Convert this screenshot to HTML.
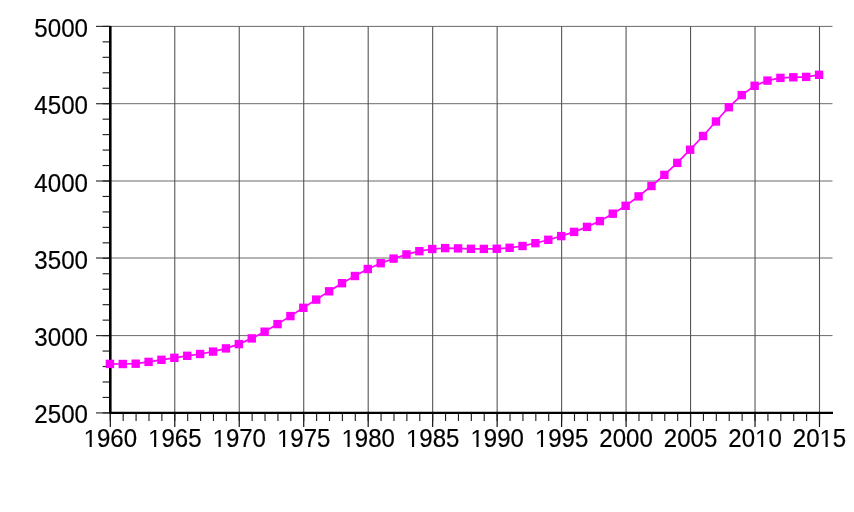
<!DOCTYPE html>
<html><head><meta charset="utf-8"><style>
html,body{margin:0;padding:0;background:#fff;}
svg{display:block;will-change:transform;}
text{font-family:"Liberation Sans",sans-serif;font-size:24.9px;fill:#000;stroke:#000;stroke-width:0.2px;}
path.one{}
</style></head><body>
<svg width="854" height="512" viewBox="0 0 854 512">
<rect width="854" height="512" fill="#fff"/>
<line x1="110.30" y1="26.40" x2="832.5" y2="26.40" stroke="#6a6a6a" stroke-width="1"/>
<line x1="96" y1="26.40" x2="110.30" y2="26.40" stroke="#333" stroke-width="1.2"/>
<line x1="110.30" y1="103.70" x2="832.5" y2="103.70" stroke="#6a6a6a" stroke-width="1"/>
<line x1="96" y1="103.70" x2="110.30" y2="103.70" stroke="#333" stroke-width="1.2"/>
<line x1="110.30" y1="181.00" x2="832.5" y2="181.00" stroke="#6a6a6a" stroke-width="1"/>
<line x1="96" y1="181.00" x2="110.30" y2="181.00" stroke="#333" stroke-width="1.2"/>
<line x1="110.30" y1="258.00" x2="832.5" y2="258.00" stroke="#6a6a6a" stroke-width="1"/>
<line x1="96" y1="258.00" x2="110.30" y2="258.00" stroke="#333" stroke-width="1.2"/>
<line x1="110.30" y1="335.60" x2="832.5" y2="335.60" stroke="#6a6a6a" stroke-width="1"/>
<line x1="96" y1="335.60" x2="110.30" y2="335.60" stroke="#333" stroke-width="1.2"/>
<line x1="110.30" y1="412.90" x2="832.5" y2="412.90" stroke="#6a6a6a" stroke-width="1"/>
<line x1="96" y1="412.90" x2="110.30" y2="412.90" stroke="#333" stroke-width="1.2"/>
<line x1="110.30" y1="26.40" x2="110.30" y2="412.90" stroke="#555" stroke-width="1.1"/>
<line x1="110.30" y1="412.90" x2="110.30" y2="427" stroke="#111" stroke-width="1.2"/>
<line x1="174.77" y1="26.40" x2="174.77" y2="412.90" stroke="#555" stroke-width="1.1"/>
<line x1="174.77" y1="412.90" x2="174.77" y2="427" stroke="#111" stroke-width="1.2"/>
<line x1="239.25" y1="26.40" x2="239.25" y2="412.90" stroke="#555" stroke-width="1.1"/>
<line x1="239.25" y1="412.90" x2="239.25" y2="427" stroke="#111" stroke-width="1.2"/>
<line x1="303.72" y1="26.40" x2="303.72" y2="412.90" stroke="#555" stroke-width="1.1"/>
<line x1="303.72" y1="412.90" x2="303.72" y2="427" stroke="#111" stroke-width="1.2"/>
<line x1="368.19" y1="26.40" x2="368.19" y2="412.90" stroke="#555" stroke-width="1.1"/>
<line x1="368.19" y1="412.90" x2="368.19" y2="427" stroke="#111" stroke-width="1.2"/>
<line x1="432.66" y1="26.40" x2="432.66" y2="412.90" stroke="#555" stroke-width="1.1"/>
<line x1="432.66" y1="412.90" x2="432.66" y2="427" stroke="#111" stroke-width="1.2"/>
<line x1="497.14" y1="26.40" x2="497.14" y2="412.90" stroke="#555" stroke-width="1.1"/>
<line x1="497.14" y1="412.90" x2="497.14" y2="427" stroke="#111" stroke-width="1.2"/>
<line x1="561.61" y1="26.40" x2="561.61" y2="412.90" stroke="#555" stroke-width="1.1"/>
<line x1="561.61" y1="412.90" x2="561.61" y2="427" stroke="#111" stroke-width="1.2"/>
<line x1="626.08" y1="26.40" x2="626.08" y2="412.90" stroke="#555" stroke-width="1.1"/>
<line x1="626.08" y1="412.90" x2="626.08" y2="427" stroke="#111" stroke-width="1.2"/>
<line x1="690.55" y1="26.40" x2="690.55" y2="412.90" stroke="#555" stroke-width="1.1"/>
<line x1="690.55" y1="412.90" x2="690.55" y2="427" stroke="#111" stroke-width="1.2"/>
<line x1="755.03" y1="26.40" x2="755.03" y2="412.90" stroke="#555" stroke-width="1.1"/>
<line x1="755.03" y1="412.90" x2="755.03" y2="427" stroke="#111" stroke-width="1.2"/>
<line x1="819.50" y1="26.40" x2="819.50" y2="412.90" stroke="#555" stroke-width="1.1"/>
<line x1="819.50" y1="412.90" x2="819.50" y2="427" stroke="#111" stroke-width="1.2"/>
<line x1="102.6" y1="26.40" x2="110.30" y2="26.40" stroke="#222" stroke-width="1.15"/>
<line x1="102.6" y1="41.86" x2="110.30" y2="41.86" stroke="#222" stroke-width="1.15"/>
<line x1="102.6" y1="57.32" x2="110.30" y2="57.32" stroke="#222" stroke-width="1.15"/>
<line x1="102.6" y1="72.78" x2="110.30" y2="72.78" stroke="#222" stroke-width="1.15"/>
<line x1="102.6" y1="88.24" x2="110.30" y2="88.24" stroke="#222" stroke-width="1.15"/>
<line x1="102.6" y1="103.70" x2="110.30" y2="103.70" stroke="#222" stroke-width="1.15"/>
<line x1="102.6" y1="119.16" x2="110.30" y2="119.16" stroke="#222" stroke-width="1.15"/>
<line x1="102.6" y1="134.62" x2="110.30" y2="134.62" stroke="#222" stroke-width="1.15"/>
<line x1="102.6" y1="150.08" x2="110.30" y2="150.08" stroke="#222" stroke-width="1.15"/>
<line x1="102.6" y1="165.54" x2="110.30" y2="165.54" stroke="#222" stroke-width="1.15"/>
<line x1="102.6" y1="181.00" x2="110.30" y2="181.00" stroke="#222" stroke-width="1.15"/>
<line x1="102.6" y1="196.46" x2="110.30" y2="196.46" stroke="#222" stroke-width="1.15"/>
<line x1="102.6" y1="211.92" x2="110.30" y2="211.92" stroke="#222" stroke-width="1.15"/>
<line x1="102.6" y1="227.38" x2="110.30" y2="227.38" stroke="#222" stroke-width="1.15"/>
<line x1="102.6" y1="242.84" x2="110.30" y2="242.84" stroke="#222" stroke-width="1.15"/>
<line x1="102.6" y1="258.30" x2="110.30" y2="258.30" stroke="#222" stroke-width="1.15"/>
<line x1="102.6" y1="273.76" x2="110.30" y2="273.76" stroke="#222" stroke-width="1.15"/>
<line x1="102.6" y1="289.22" x2="110.30" y2="289.22" stroke="#222" stroke-width="1.15"/>
<line x1="102.6" y1="304.68" x2="110.30" y2="304.68" stroke="#222" stroke-width="1.15"/>
<line x1="102.6" y1="320.14" x2="110.30" y2="320.14" stroke="#222" stroke-width="1.15"/>
<line x1="102.6" y1="335.60" x2="110.30" y2="335.60" stroke="#222" stroke-width="1.15"/>
<line x1="102.6" y1="351.06" x2="110.30" y2="351.06" stroke="#222" stroke-width="1.15"/>
<line x1="102.6" y1="366.52" x2="110.30" y2="366.52" stroke="#222" stroke-width="1.15"/>
<line x1="102.6" y1="381.98" x2="110.30" y2="381.98" stroke="#222" stroke-width="1.15"/>
<line x1="102.6" y1="397.44" x2="110.30" y2="397.44" stroke="#222" stroke-width="1.15"/>
<line x1="102.6" y1="412.90" x2="110.30" y2="412.90" stroke="#222" stroke-width="1.15"/>
<line x1="110.30" y1="412.90" x2="110.30" y2="421" stroke="#222" stroke-width="1.15"/>
<line x1="123.19" y1="412.90" x2="123.19" y2="421" stroke="#222" stroke-width="1.15"/>
<line x1="136.09" y1="412.90" x2="136.09" y2="421" stroke="#222" stroke-width="1.15"/>
<line x1="148.98" y1="412.90" x2="148.98" y2="421" stroke="#222" stroke-width="1.15"/>
<line x1="161.88" y1="412.90" x2="161.88" y2="421" stroke="#222" stroke-width="1.15"/>
<line x1="174.77" y1="412.90" x2="174.77" y2="421" stroke="#222" stroke-width="1.15"/>
<line x1="187.67" y1="412.90" x2="187.67" y2="421" stroke="#222" stroke-width="1.15"/>
<line x1="200.56" y1="412.90" x2="200.56" y2="421" stroke="#222" stroke-width="1.15"/>
<line x1="213.46" y1="412.90" x2="213.46" y2="421" stroke="#222" stroke-width="1.15"/>
<line x1="226.35" y1="412.90" x2="226.35" y2="421" stroke="#222" stroke-width="1.15"/>
<line x1="239.25" y1="412.90" x2="239.25" y2="421" stroke="#222" stroke-width="1.15"/>
<line x1="252.14" y1="412.90" x2="252.14" y2="421" stroke="#222" stroke-width="1.15"/>
<line x1="265.03" y1="412.90" x2="265.03" y2="421" stroke="#222" stroke-width="1.15"/>
<line x1="277.93" y1="412.90" x2="277.93" y2="421" stroke="#222" stroke-width="1.15"/>
<line x1="290.82" y1="412.90" x2="290.82" y2="421" stroke="#222" stroke-width="1.15"/>
<line x1="303.72" y1="412.90" x2="303.72" y2="421" stroke="#222" stroke-width="1.15"/>
<line x1="316.61" y1="412.90" x2="316.61" y2="421" stroke="#222" stroke-width="1.15"/>
<line x1="329.51" y1="412.90" x2="329.51" y2="421" stroke="#222" stroke-width="1.15"/>
<line x1="342.40" y1="412.90" x2="342.40" y2="421" stroke="#222" stroke-width="1.15"/>
<line x1="355.30" y1="412.90" x2="355.30" y2="421" stroke="#222" stroke-width="1.15"/>
<line x1="368.19" y1="412.90" x2="368.19" y2="421" stroke="#222" stroke-width="1.15"/>
<line x1="381.09" y1="412.90" x2="381.09" y2="421" stroke="#222" stroke-width="1.15"/>
<line x1="393.98" y1="412.90" x2="393.98" y2="421" stroke="#222" stroke-width="1.15"/>
<line x1="406.87" y1="412.90" x2="406.87" y2="421" stroke="#222" stroke-width="1.15"/>
<line x1="419.77" y1="412.90" x2="419.77" y2="421" stroke="#222" stroke-width="1.15"/>
<line x1="432.66" y1="412.90" x2="432.66" y2="421" stroke="#222" stroke-width="1.15"/>
<line x1="445.56" y1="412.90" x2="445.56" y2="421" stroke="#222" stroke-width="1.15"/>
<line x1="458.45" y1="412.90" x2="458.45" y2="421" stroke="#222" stroke-width="1.15"/>
<line x1="471.35" y1="412.90" x2="471.35" y2="421" stroke="#222" stroke-width="1.15"/>
<line x1="484.24" y1="412.90" x2="484.24" y2="421" stroke="#222" stroke-width="1.15"/>
<line x1="497.14" y1="412.90" x2="497.14" y2="421" stroke="#222" stroke-width="1.15"/>
<line x1="510.03" y1="412.90" x2="510.03" y2="421" stroke="#222" stroke-width="1.15"/>
<line x1="522.93" y1="412.90" x2="522.93" y2="421" stroke="#222" stroke-width="1.15"/>
<line x1="535.82" y1="412.90" x2="535.82" y2="421" stroke="#222" stroke-width="1.15"/>
<line x1="548.71" y1="412.90" x2="548.71" y2="421" stroke="#222" stroke-width="1.15"/>
<line x1="561.61" y1="412.90" x2="561.61" y2="421" stroke="#222" stroke-width="1.15"/>
<line x1="574.50" y1="412.90" x2="574.50" y2="421" stroke="#222" stroke-width="1.15"/>
<line x1="587.40" y1="412.90" x2="587.40" y2="421" stroke="#222" stroke-width="1.15"/>
<line x1="600.29" y1="412.90" x2="600.29" y2="421" stroke="#222" stroke-width="1.15"/>
<line x1="613.19" y1="412.90" x2="613.19" y2="421" stroke="#222" stroke-width="1.15"/>
<line x1="626.08" y1="412.90" x2="626.08" y2="421" stroke="#222" stroke-width="1.15"/>
<line x1="638.98" y1="412.90" x2="638.98" y2="421" stroke="#222" stroke-width="1.15"/>
<line x1="651.87" y1="412.90" x2="651.87" y2="421" stroke="#222" stroke-width="1.15"/>
<line x1="664.77" y1="412.90" x2="664.77" y2="421" stroke="#222" stroke-width="1.15"/>
<line x1="677.66" y1="412.90" x2="677.66" y2="421" stroke="#222" stroke-width="1.15"/>
<line x1="690.55" y1="412.90" x2="690.55" y2="421" stroke="#222" stroke-width="1.15"/>
<line x1="703.45" y1="412.90" x2="703.45" y2="421" stroke="#222" stroke-width="1.15"/>
<line x1="716.34" y1="412.90" x2="716.34" y2="421" stroke="#222" stroke-width="1.15"/>
<line x1="729.24" y1="412.90" x2="729.24" y2="421" stroke="#222" stroke-width="1.15"/>
<line x1="742.13" y1="412.90" x2="742.13" y2="421" stroke="#222" stroke-width="1.15"/>
<line x1="755.03" y1="412.90" x2="755.03" y2="421" stroke="#222" stroke-width="1.15"/>
<line x1="767.92" y1="412.90" x2="767.92" y2="421" stroke="#222" stroke-width="1.15"/>
<line x1="780.82" y1="412.90" x2="780.82" y2="421" stroke="#222" stroke-width="1.15"/>
<line x1="793.71" y1="412.90" x2="793.71" y2="421" stroke="#222" stroke-width="1.15"/>
<line x1="806.61" y1="412.90" x2="806.61" y2="421" stroke="#222" stroke-width="1.15"/>
<line x1="819.50" y1="412.90" x2="819.50" y2="421" stroke="#222" stroke-width="1.15"/>
<line x1="110.30" y1="25.90" x2="110.30" y2="413.90" stroke="#000" stroke-width="2.6"/>
<line x1="109.30" y1="412.90" x2="833" y2="412.90" stroke="#000" stroke-width="2.2"/>
<text x="0" y="0" transform="translate(34.27 36.90) scale(0.97 1)">5</text>
<text x="0" y="0" transform="translate(47.70 36.90) scale(0.97 1)">0</text>
<text x="0" y="0" transform="translate(61.13 36.90) scale(0.97 1)">0</text>
<text x="0" y="0" transform="translate(74.57 36.90) scale(0.97 1)">0</text>
<text x="0" y="0" transform="translate(34.27 114.20) scale(0.97 1)">4</text>
<text x="0" y="0" transform="translate(47.70 114.20) scale(0.97 1)">5</text>
<text x="0" y="0" transform="translate(61.13 114.20) scale(0.97 1)">0</text>
<text x="0" y="0" transform="translate(74.57 114.20) scale(0.97 1)">0</text>
<text x="0" y="0" transform="translate(34.27 191.50) scale(0.97 1)">4</text>
<text x="0" y="0" transform="translate(47.70 191.50) scale(0.97 1)">0</text>
<text x="0" y="0" transform="translate(61.13 191.50) scale(0.97 1)">0</text>
<text x="0" y="0" transform="translate(74.57 191.50) scale(0.97 1)">0</text>
<text x="0" y="0" transform="translate(34.27 268.80) scale(0.97 1)">3</text>
<text x="0" y="0" transform="translate(47.70 268.80) scale(0.97 1)">5</text>
<text x="0" y="0" transform="translate(61.13 268.80) scale(0.97 1)">0</text>
<text x="0" y="0" transform="translate(74.57 268.80) scale(0.97 1)">0</text>
<text x="0" y="0" transform="translate(34.27 346.10) scale(0.97 1)">3</text>
<text x="0" y="0" transform="translate(47.70 346.10) scale(0.97 1)">0</text>
<text x="0" y="0" transform="translate(61.13 346.10) scale(0.97 1)">0</text>
<text x="0" y="0" transform="translate(74.57 346.10) scale(0.97 1)">0</text>
<text x="0" y="0" transform="translate(34.27 423.40) scale(0.97 1)">2</text>
<text x="0" y="0" transform="translate(47.70 423.40) scale(0.97 1)">5</text>
<text x="0" y="0" transform="translate(61.13 423.40) scale(0.97 1)">0</text>
<text x="0" y="0" transform="translate(74.57 423.40) scale(0.97 1)">0</text>
<path d="M515 0L515 1237L197 1010L197 1180L530 1409L696 1409L696 0Z" transform="translate(83.57 447.10) scale(0.01173 -0.01216)"/>
<text x="0" y="0" transform="translate(96.94 447.10) scale(0.965 1)">9</text>
<text x="0" y="0" transform="translate(110.30 447.10) scale(0.965 1)">6</text>
<text x="0" y="0" transform="translate(123.66 447.10) scale(0.965 1)">0</text>
<path d="M515 0L515 1237L197 1010L197 1180L530 1409L696 1409L696 0Z" transform="translate(148.05 447.10) scale(0.01173 -0.01216)"/>
<text x="0" y="0" transform="translate(161.41 447.10) scale(0.965 1)">9</text>
<text x="0" y="0" transform="translate(174.77 447.10) scale(0.965 1)">6</text>
<text x="0" y="0" transform="translate(188.14 447.10) scale(0.965 1)">5</text>
<path d="M515 0L515 1237L197 1010L197 1180L530 1409L696 1409L696 0Z" transform="translate(212.52 447.10) scale(0.01173 -0.01216)"/>
<text x="0" y="0" transform="translate(225.88 447.10) scale(0.965 1)">9</text>
<text x="0" y="0" transform="translate(239.25 447.10) scale(0.965 1)">7</text>
<text x="0" y="0" transform="translate(252.61 447.10) scale(0.965 1)">0</text>
<path d="M515 0L515 1237L197 1010L197 1180L530 1409L696 1409L696 0Z" transform="translate(276.99 447.10) scale(0.01173 -0.01216)"/>
<text x="0" y="0" transform="translate(290.35 447.10) scale(0.965 1)">9</text>
<text x="0" y="0" transform="translate(303.72 447.10) scale(0.965 1)">7</text>
<text x="0" y="0" transform="translate(317.08 447.10) scale(0.965 1)">5</text>
<path d="M515 0L515 1237L197 1010L197 1180L530 1409L696 1409L696 0Z" transform="translate(341.46 447.10) scale(0.01173 -0.01216)"/>
<text x="0" y="0" transform="translate(354.83 447.10) scale(0.965 1)">9</text>
<text x="0" y="0" transform="translate(368.19 447.10) scale(0.965 1)">8</text>
<text x="0" y="0" transform="translate(381.55 447.10) scale(0.965 1)">0</text>
<path d="M515 0L515 1237L197 1010L197 1180L530 1409L696 1409L696 0Z" transform="translate(405.94 447.10) scale(0.01173 -0.01216)"/>
<text x="0" y="0" transform="translate(419.30 447.10) scale(0.965 1)">9</text>
<text x="0" y="0" transform="translate(432.66 447.10) scale(0.965 1)">8</text>
<text x="0" y="0" transform="translate(446.03 447.10) scale(0.965 1)">5</text>
<path d="M515 0L515 1237L197 1010L197 1180L530 1409L696 1409L696 0Z" transform="translate(470.41 447.10) scale(0.01173 -0.01216)"/>
<text x="0" y="0" transform="translate(483.77 447.10) scale(0.965 1)">9</text>
<text x="0" y="0" transform="translate(497.14 447.10) scale(0.965 1)">9</text>
<text x="0" y="0" transform="translate(510.50 447.10) scale(0.965 1)">0</text>
<path d="M515 0L515 1237L197 1010L197 1180L530 1409L696 1409L696 0Z" transform="translate(534.88 447.10) scale(0.01173 -0.01216)"/>
<text x="0" y="0" transform="translate(548.25 447.10) scale(0.965 1)">9</text>
<text x="0" y="0" transform="translate(561.61 447.10) scale(0.965 1)">9</text>
<text x="0" y="0" transform="translate(574.97 447.10) scale(0.965 1)">5</text>
<text x="0" y="0" transform="translate(599.35 447.10) scale(0.965 1)">2</text>
<text x="0" y="0" transform="translate(612.72 447.10) scale(0.965 1)">0</text>
<text x="0" y="0" transform="translate(626.08 447.10) scale(0.965 1)">0</text>
<text x="0" y="0" transform="translate(639.45 447.10) scale(0.965 1)">0</text>
<text x="0" y="0" transform="translate(663.83 447.10) scale(0.965 1)">2</text>
<text x="0" y="0" transform="translate(677.19 447.10) scale(0.965 1)">0</text>
<text x="0" y="0" transform="translate(690.55 447.10) scale(0.965 1)">0</text>
<text x="0" y="0" transform="translate(703.92 447.10) scale(0.965 1)">5</text>
<text x="0" y="0" transform="translate(728.30 447.10) scale(0.965 1)">2</text>
<text x="0" y="0" transform="translate(741.66 447.10) scale(0.965 1)">0</text>
<path d="M515 0L515 1237L197 1010L197 1180L530 1409L696 1409L696 0Z" transform="translate(755.03 447.10) scale(0.01173 -0.01216)"/>
<text x="0" y="0" transform="translate(768.39 447.10) scale(0.965 1)">0</text>
<text x="0" y="0" transform="translate(792.77 447.10) scale(0.965 1)">2</text>
<text x="0" y="0" transform="translate(806.14 447.10) scale(0.965 1)">0</text>
<path d="M515 0L515 1237L197 1010L197 1180L530 1409L696 1409L696 0Z" transform="translate(819.50 447.10) scale(0.01173 -0.01216)"/>
<text x="0" y="0" transform="translate(832.86 447.10) scale(0.965 1)">5</text>
<polyline points="109.90,363.90 122.79,364.00 135.69,363.70 148.58,361.90 161.48,359.80 174.37,357.80 187.27,355.80 200.16,354.00 213.06,351.60 225.95,348.40 238.85,344.10 251.74,338.40 264.63,331.70 277.53,324.10 290.42,316.10 303.32,307.80 316.21,299.60 329.11,291.30 342.00,283.20 354.90,276.00 367.79,269.00 380.69,263.20 393.58,258.60 406.47,254.40 419.37,251.20 432.26,249.00 445.16,248.10 458.05,248.40 470.95,248.80 483.84,248.90 496.74,248.80 509.63,247.80 522.53,246.00 535.42,243.20 548.31,239.80 561.21,236.10 574.10,231.90 587.00,226.90 599.89,221.10 612.79,213.70 625.68,205.80 638.58,196.40 651.47,186.00 664.37,174.90 677.26,162.90 690.15,149.70 703.05,136.00 715.94,121.50 728.84,107.20 741.73,95.10 754.63,85.80 767.52,80.60 780.42,77.90 793.31,77.30 806.21,76.90 819.10,74.80" fill="none" stroke="#ff00ff" stroke-width="1.7"/>
<rect x="105.70" y="359.70" width="8.4" height="8.4" fill="#ff00ff"/>
<rect x="118.59" y="359.80" width="8.4" height="8.4" fill="#ff00ff"/>
<rect x="131.49" y="359.50" width="8.4" height="8.4" fill="#ff00ff"/>
<rect x="144.38" y="357.70" width="8.4" height="8.4" fill="#ff00ff"/>
<rect x="157.28" y="355.60" width="8.4" height="8.4" fill="#ff00ff"/>
<rect x="170.17" y="353.60" width="8.4" height="8.4" fill="#ff00ff"/>
<rect x="183.07" y="351.60" width="8.4" height="8.4" fill="#ff00ff"/>
<rect x="195.96" y="349.80" width="8.4" height="8.4" fill="#ff00ff"/>
<rect x="208.86" y="347.40" width="8.4" height="8.4" fill="#ff00ff"/>
<rect x="221.75" y="344.20" width="8.4" height="8.4" fill="#ff00ff"/>
<rect x="234.65" y="339.90" width="8.4" height="8.4" fill="#ff00ff"/>
<rect x="247.54" y="334.20" width="8.4" height="8.4" fill="#ff00ff"/>
<rect x="260.43" y="327.50" width="8.4" height="8.4" fill="#ff00ff"/>
<rect x="273.33" y="319.90" width="8.4" height="8.4" fill="#ff00ff"/>
<rect x="286.22" y="311.90" width="8.4" height="8.4" fill="#ff00ff"/>
<rect x="299.12" y="303.60" width="8.4" height="8.4" fill="#ff00ff"/>
<rect x="312.01" y="295.40" width="8.4" height="8.4" fill="#ff00ff"/>
<rect x="324.91" y="287.10" width="8.4" height="8.4" fill="#ff00ff"/>
<rect x="337.80" y="279.00" width="8.4" height="8.4" fill="#ff00ff"/>
<rect x="350.70" y="271.80" width="8.4" height="8.4" fill="#ff00ff"/>
<rect x="363.59" y="264.80" width="8.4" height="8.4" fill="#ff00ff"/>
<rect x="376.49" y="259.00" width="8.4" height="8.4" fill="#ff00ff"/>
<rect x="389.38" y="254.40" width="8.4" height="8.4" fill="#ff00ff"/>
<rect x="402.27" y="250.20" width="8.4" height="8.4" fill="#ff00ff"/>
<rect x="415.17" y="247.00" width="8.4" height="8.4" fill="#ff00ff"/>
<rect x="428.06" y="244.80" width="8.4" height="8.4" fill="#ff00ff"/>
<rect x="440.96" y="243.90" width="8.4" height="8.4" fill="#ff00ff"/>
<rect x="453.85" y="244.20" width="8.4" height="8.4" fill="#ff00ff"/>
<rect x="466.75" y="244.60" width="8.4" height="8.4" fill="#ff00ff"/>
<rect x="479.64" y="244.70" width="8.4" height="8.4" fill="#ff00ff"/>
<rect x="492.54" y="244.60" width="8.4" height="8.4" fill="#ff00ff"/>
<rect x="505.43" y="243.60" width="8.4" height="8.4" fill="#ff00ff"/>
<rect x="518.33" y="241.80" width="8.4" height="8.4" fill="#ff00ff"/>
<rect x="531.22" y="239.00" width="8.4" height="8.4" fill="#ff00ff"/>
<rect x="544.11" y="235.60" width="8.4" height="8.4" fill="#ff00ff"/>
<rect x="557.01" y="231.90" width="8.4" height="8.4" fill="#ff00ff"/>
<rect x="569.90" y="227.70" width="8.4" height="8.4" fill="#ff00ff"/>
<rect x="582.80" y="222.70" width="8.4" height="8.4" fill="#ff00ff"/>
<rect x="595.69" y="216.90" width="8.4" height="8.4" fill="#ff00ff"/>
<rect x="608.59" y="209.50" width="8.4" height="8.4" fill="#ff00ff"/>
<rect x="621.48" y="201.60" width="8.4" height="8.4" fill="#ff00ff"/>
<rect x="634.38" y="192.20" width="8.4" height="8.4" fill="#ff00ff"/>
<rect x="647.27" y="181.80" width="8.4" height="8.4" fill="#ff00ff"/>
<rect x="660.17" y="170.70" width="8.4" height="8.4" fill="#ff00ff"/>
<rect x="673.06" y="158.70" width="8.4" height="8.4" fill="#ff00ff"/>
<rect x="685.95" y="145.50" width="8.4" height="8.4" fill="#ff00ff"/>
<rect x="698.85" y="131.80" width="8.4" height="8.4" fill="#ff00ff"/>
<rect x="711.74" y="117.30" width="8.4" height="8.4" fill="#ff00ff"/>
<rect x="724.64" y="103.00" width="8.4" height="8.4" fill="#ff00ff"/>
<rect x="737.53" y="90.90" width="8.4" height="8.4" fill="#ff00ff"/>
<rect x="750.43" y="81.60" width="8.4" height="8.4" fill="#ff00ff"/>
<rect x="763.32" y="76.40" width="8.4" height="8.4" fill="#ff00ff"/>
<rect x="776.22" y="73.70" width="8.4" height="8.4" fill="#ff00ff"/>
<rect x="789.11" y="73.10" width="8.4" height="8.4" fill="#ff00ff"/>
<rect x="802.01" y="72.70" width="8.4" height="8.4" fill="#ff00ff"/>
<rect x="814.90" y="70.60" width="8.4" height="8.4" fill="#ff00ff"/>
</svg>
</body></html>
